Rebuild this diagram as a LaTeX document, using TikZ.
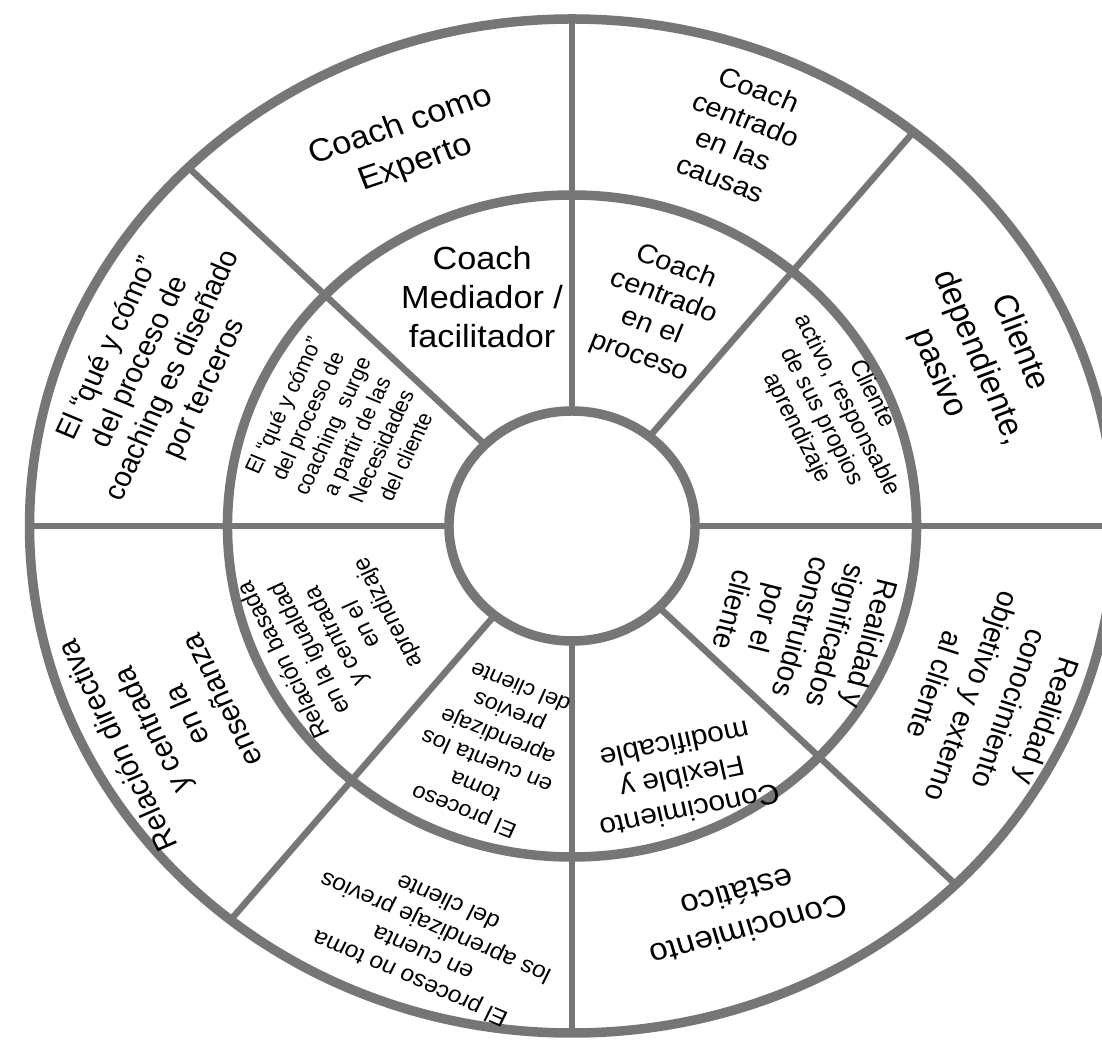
\documentclass[tikz,border=0pt]{standalone}
\usepackage{fontspec}
\setmainfont{Liberation Sans}
\definecolor{ringgray}{HTML}{767676}
\newcommand{\fs}[2]{\fontsize{#1}{#2}\selectfont}
\begin{document}
\begin{tikzpicture}[x=1pt,y=1pt,
  ring/.style={draw=ringgray, line width=9.5pt},
  spoke/.style={draw=ringgray, line width=6.5pt},
  lbl/.style={align=center, transform shape, inner sep=0pt, text=black}]
\useasboundingbox (0,0) rectangle (1102,1040);
\fill[white] (0,0) rectangle (1102,1040);
\begin{scope}[shift={(572,514)}, xscale=1.07]
  \foreach \a in {0,51,90,135,180,231,270,315}
    \draw[spoke] (\a:115) -- (\a:507);
  \draw[ring] (0,0) circle [radius=507];
  \draw[ring] (0,0) ellipse [x radius=322, y radius=331];
  \draw[ring] (0,0) circle [radius=115];
  % outer ring
  \node[lbl, font=\fs{32}{40}, rotate=20] (o1) at (-153,381) {Coach como\\Experto};
  \node[lbl, font=\fs{27}{32}, rotate=-22] (o2) at (157,392) {Coach\\centrado\\en las\\causas};
  \node[lbl, font=\fs{32}{41}, rotate=-68] (o3) at (380,168) {Cliente\\dependiente,\\pasivo};
  \node[lbl, font=\fs{28}{37}, rotate=-109] (o4) at (392,-177) {Realidad y\\conocimiento\\objetivo y externo\\al cliente};
  \node[lbl, font=\fs{31}{39}, rotate=196] (o5) at (160,-386) {Conocimiento\\estático};
  \node[lbl, font=\fs{23}{28}, rotate=155] (o6) at (-134,-415) {El proceso no toma\\en cuenta\\los aprendizaje previos\\del cliente};
  \node[lbl, font=\fs{29}{36}, rotate=115] (o7) at (-377,-197) {Relación directiva\\y centrada\\en la\\enseñanza};
  \node[lbl, font=\fs{28}{33}, rotate=66] (o8) at (-388,157) {El “qué y cómo”\\del proceso de\\coaching es diseñado\\por terceros};
  % inner ring
  \node[lbl, font=\fs{32}{39}] (iA) at (-84,229) {Coach\\Mediador /\\facilitador};
  \node[lbl, font=\fs{27}{32}, rotate=-21] (iB) at (80,214) {Coach\\centrado\\en el\\proceso};
  \node[lbl, font=\fs{23}{26}, rotate=-64] (iC) at (245,115) {Cliente\\activo, responsable\\de sus propios\\aprendizaje};
  \node[lbl, font=\fs{28}{33}, rotate=-105] (iD) at (215,-101) {Realidad y\\significados\\construidos\\por el\\cliente};
  \node[lbl, font=\fs{28}{34}, rotate=192] (iE) at (103,-252) {Conocimiento\\Flexible y\\modificable};
  \node[lbl, font=\fs{22}{27}, rotate=157] (iF) at (-75,-224) {El proceso\\toma\\en cuenta los\\aprendizaje\\previos\\del cliente};
  \node[lbl, font=\fs{23}{27}, rotate=116] (iG) at (-220,-110) {Relación basada\\en la igualdad\\y centrada\\en el\\aprendizaje};
  \node[lbl, font=\fs{21}{25}, rotate=66] (iH) at (-213,95) {El “qué y cómo”\\del proceso de\\coaching~ surge\\a partir de las\\Necesidades\\del cliente};
\end{scope}
\end{tikzpicture}
\end{document}
